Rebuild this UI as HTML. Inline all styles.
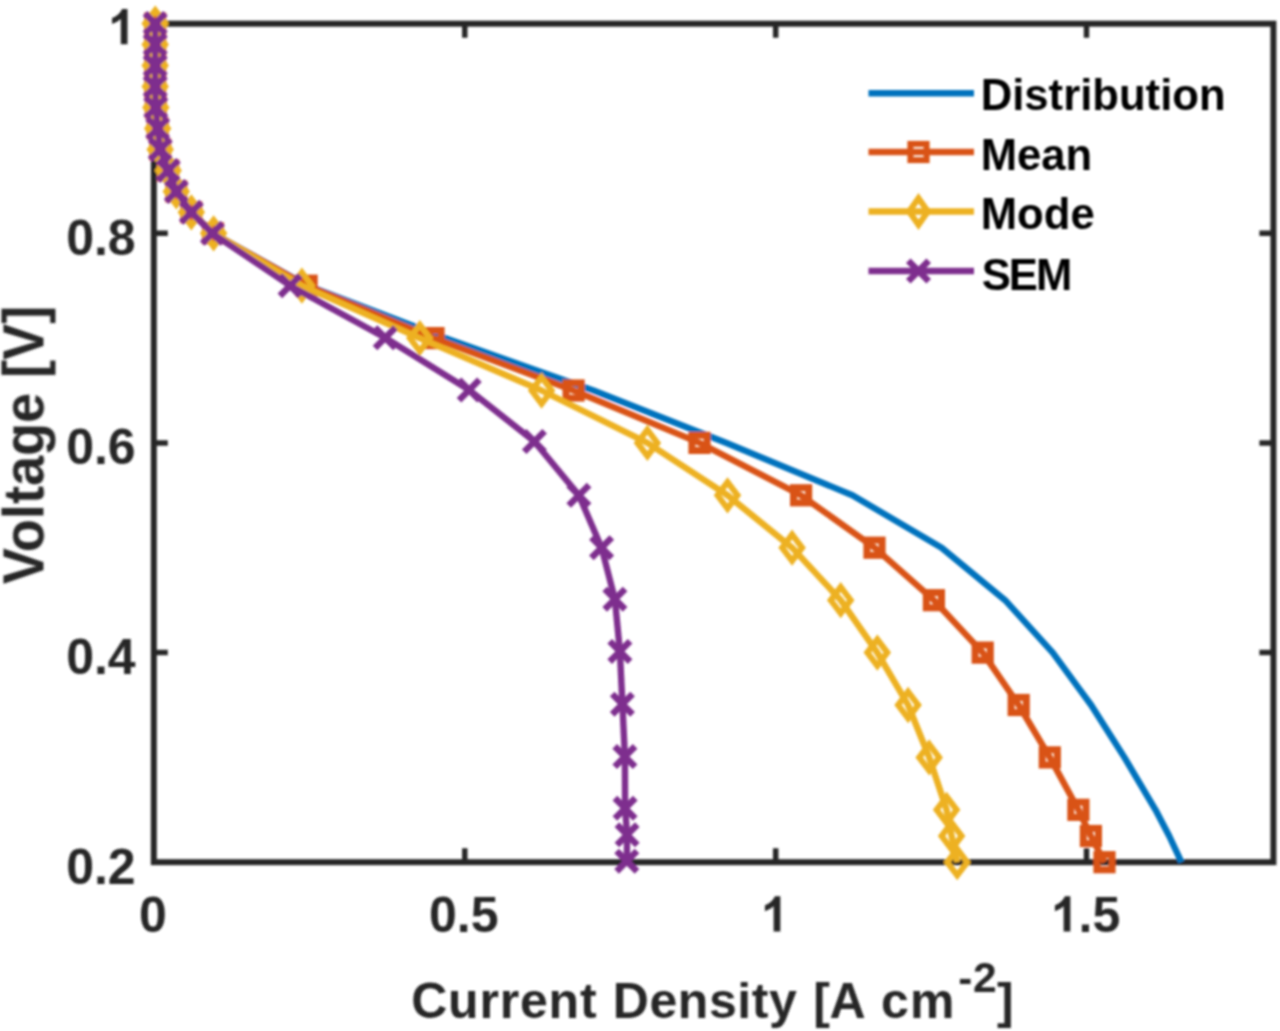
<!DOCTYPE html>
<html><head><meta charset="utf-8"><style>
html,body{margin:0;padding:0;background:#fff;overflow:hidden}
svg{display:block}
text{font-family:"Liberation Sans",sans-serif;font-weight:bold}
</style></head><body>
<svg width="1280" height="1031" viewBox="0 0 1280 1031">
<defs><filter id="bl" x="0" y="0" width="1280" height="1031" filterUnits="userSpaceOnUse"><feGaussianBlur stdDeviation="0.8"/></filter></defs>
<rect width="1280" height="1031" fill="#fff"/>
<g filter="url(#bl)">
<g><rect x="153.8" y="23.7" width="1119.6" height="838.5" fill="none" stroke="#262626" stroke-width="6" stroke-linejoin="miter"/><path d="M464.8,862.2V848.2M464.8,23.7V37.7" stroke="#262626" stroke-width="5.5"/><path d="M775.7,862.2V848.2M775.7,23.7V37.7" stroke="#262626" stroke-width="5.5"/><path d="M1086.5,862.2V848.2M1086.5,23.7V37.7" stroke="#262626" stroke-width="5.5"/><path d="M153.8,652.6H167.8M1273.4,652.6H1259.4" stroke="#262626" stroke-width="5.5"/><path d="M153.8,442.9H167.8M1273.4,442.9H1259.4" stroke="#262626" stroke-width="5.5"/><path d="M153.8,233.3H167.8M1273.4,233.3H1259.4" stroke="#262626" stroke-width="5.5"/></g>
<g><polyline points="155.2,23.6 155.2,44.6 155.2,65.6 155.2,86.5 155.8,107.5 157.7,128.5 160.2,149.4 168.2,170.4 176.3,191.4 191.3,212.3 213.0,233.3 307.5,285.7 444.9,338.1 593.5,390.5 726.5,442.9 852.4,495.3 941.6,547.7 1005.1,600.2 1052.7,652.6 1091.1,705.0 1124.4,757.4 1155.5,809.8 1169.2,836.0 1181.4,862.2" fill="none" stroke="#0072BD" stroke-width="6.4" stroke-linejoin="round"/><polyline points="155.2,23.6 155.2,44.6 155.2,65.6 155.2,86.5 155.8,107.5 157.7,128.5 160.2,149.4 168.2,170.4 176.3,191.4 191.3,212.3 213.0,233.3 306.6,285.7 433.5,338.1 573.6,390.5 699.5,442.9 801.1,495.3 874.5,547.7 933.9,600.2 982.7,652.6 1018.7,705.0 1049.8,757.4 1078.4,809.8 1090.9,836.0 1104.5,862.2" fill="none" stroke="#D95319" stroke-width="6.4" stroke-linejoin="round"/><rect x="147.6" y="16.0" width="15.2" height="15.2" fill="none" stroke="#D95319" stroke-width="7.0"/><rect x="147.6" y="37.0" width="15.2" height="15.2" fill="none" stroke="#D95319" stroke-width="7.0"/><rect x="147.6" y="58.0" width="15.2" height="15.2" fill="none" stroke="#D95319" stroke-width="7.0"/><rect x="147.6" y="78.9" width="15.2" height="15.2" fill="none" stroke="#D95319" stroke-width="7.0"/><rect x="148.2" y="99.9" width="15.2" height="15.2" fill="none" stroke="#D95319" stroke-width="7.0"/><rect x="150.1" y="120.9" width="15.2" height="15.2" fill="none" stroke="#D95319" stroke-width="7.0"/><rect x="152.6" y="141.8" width="15.2" height="15.2" fill="none" stroke="#D95319" stroke-width="7.0"/><rect x="160.6" y="162.8" width="15.2" height="15.2" fill="none" stroke="#D95319" stroke-width="7.0"/><rect x="168.7" y="183.8" width="15.2" height="15.2" fill="none" stroke="#D95319" stroke-width="7.0"/><rect x="183.7" y="204.7" width="15.2" height="15.2" fill="none" stroke="#D95319" stroke-width="7.0"/><rect x="205.4" y="225.7" width="15.2" height="15.2" fill="none" stroke="#D95319" stroke-width="7.0"/><rect x="299.0" y="278.1" width="15.2" height="15.2" fill="none" stroke="#D95319" stroke-width="7.0"/><rect x="425.9" y="330.5" width="15.2" height="15.2" fill="none" stroke="#D95319" stroke-width="7.0"/><rect x="566.0" y="382.9" width="15.2" height="15.2" fill="none" stroke="#D95319" stroke-width="7.0"/><rect x="691.9" y="435.3" width="15.2" height="15.2" fill="none" stroke="#D95319" stroke-width="7.0"/><rect x="793.5" y="487.7" width="15.2" height="15.2" fill="none" stroke="#D95319" stroke-width="7.0"/><rect x="866.9" y="540.1" width="15.2" height="15.2" fill="none" stroke="#D95319" stroke-width="7.0"/><rect x="926.3" y="592.6" width="15.2" height="15.2" fill="none" stroke="#D95319" stroke-width="7.0"/><rect x="975.1" y="645.0" width="15.2" height="15.2" fill="none" stroke="#D95319" stroke-width="7.0"/><rect x="1011.1" y="697.4" width="15.2" height="15.2" fill="none" stroke="#D95319" stroke-width="7.0"/><rect x="1042.2" y="749.8" width="15.2" height="15.2" fill="none" stroke="#D95319" stroke-width="7.0"/><rect x="1070.8" y="802.2" width="15.2" height="15.2" fill="none" stroke="#D95319" stroke-width="7.0"/><rect x="1083.3" y="828.4" width="15.2" height="15.2" fill="none" stroke="#D95319" stroke-width="7.0"/><rect x="1096.9" y="854.6" width="15.2" height="15.2" fill="none" stroke="#D95319" stroke-width="7.0"/><polyline points="155.2,23.6 155.2,44.6 155.2,65.6 155.2,86.5 155.8,107.5 157.7,128.5 160.2,149.4 168.2,170.4 176.3,191.4 191.3,212.3 213.6,233.3 301.9,285.7 419.8,338.1 541.6,390.5 647.4,442.9 727.5,495.3 792.1,547.7 840.7,600.2 877.3,652.6 908.1,705.0 929.2,757.4 946.6,809.8 951.6,836.0 957.2,862.2" fill="none" stroke="#EDB120" stroke-width="6.4" stroke-linejoin="round"/><path d="M155.2,10.4L165.2,23.6L155.2,36.8L145.2,23.6Z" fill="none" stroke="#EDB120" stroke-width="6.0" stroke-miterlimit="10"/><path d="M155.2,31.4L165.2,44.6L155.2,57.8L145.2,44.6Z" fill="none" stroke="#EDB120" stroke-width="6.0" stroke-miterlimit="10"/><path d="M155.2,52.4L165.2,65.6L155.2,78.8L145.2,65.6Z" fill="none" stroke="#EDB120" stroke-width="6.0" stroke-miterlimit="10"/><path d="M155.2,73.3L165.2,86.5L155.2,99.7L145.2,86.5Z" fill="none" stroke="#EDB120" stroke-width="6.0" stroke-miterlimit="10"/><path d="M155.8,94.3L165.8,107.5L155.8,120.7L145.8,107.5Z" fill="none" stroke="#EDB120" stroke-width="6.0" stroke-miterlimit="10"/><path d="M157.7,115.3L167.7,128.5L157.7,141.7L147.7,128.5Z" fill="none" stroke="#EDB120" stroke-width="6.0" stroke-miterlimit="10"/><path d="M160.2,136.2L170.2,149.4L160.2,162.6L150.2,149.4Z" fill="none" stroke="#EDB120" stroke-width="6.0" stroke-miterlimit="10"/><path d="M168.2,157.2L178.2,170.4L168.2,183.6L158.2,170.4Z" fill="none" stroke="#EDB120" stroke-width="6.0" stroke-miterlimit="10"/><path d="M176.3,178.2L186.3,191.4L176.3,204.6L166.3,191.4Z" fill="none" stroke="#EDB120" stroke-width="6.0" stroke-miterlimit="10"/><path d="M191.3,199.1L201.3,212.3L191.3,225.5L181.3,212.3Z" fill="none" stroke="#EDB120" stroke-width="6.0" stroke-miterlimit="10"/><path d="M213.6,220.1L223.6,233.3L213.6,246.5L203.6,233.3Z" fill="none" stroke="#EDB120" stroke-width="6.0" stroke-miterlimit="10"/><path d="M301.9,272.5L311.9,285.7L301.9,298.9L291.9,285.7Z" fill="none" stroke="#EDB120" stroke-width="6.0" stroke-miterlimit="10"/><path d="M419.8,324.9L429.8,338.1L419.8,351.3L409.8,338.1Z" fill="none" stroke="#EDB120" stroke-width="6.0" stroke-miterlimit="10"/><path d="M541.6,377.3L551.6,390.5L541.6,403.7L531.6,390.5Z" fill="none" stroke="#EDB120" stroke-width="6.0" stroke-miterlimit="10"/><path d="M647.4,429.7L657.4,442.9L647.4,456.1L637.4,442.9Z" fill="none" stroke="#EDB120" stroke-width="6.0" stroke-miterlimit="10"/><path d="M727.5,482.1L737.5,495.3L727.5,508.5L717.5,495.3Z" fill="none" stroke="#EDB120" stroke-width="6.0" stroke-miterlimit="10"/><path d="M792.1,534.5L802.1,547.7L792.1,560.9L782.1,547.7Z" fill="none" stroke="#EDB120" stroke-width="6.0" stroke-miterlimit="10"/><path d="M840.7,587.0L850.7,600.2L840.7,613.4L830.7,600.2Z" fill="none" stroke="#EDB120" stroke-width="6.0" stroke-miterlimit="10"/><path d="M877.3,639.4L887.3,652.6L877.3,665.8L867.3,652.6Z" fill="none" stroke="#EDB120" stroke-width="6.0" stroke-miterlimit="10"/><path d="M908.1,691.8L918.1,705.0L908.1,718.2L898.1,705.0Z" fill="none" stroke="#EDB120" stroke-width="6.0" stroke-miterlimit="10"/><path d="M929.2,744.2L939.2,757.4L929.2,770.6L919.2,757.4Z" fill="none" stroke="#EDB120" stroke-width="6.0" stroke-miterlimit="10"/><path d="M946.6,796.6L956.6,809.8L946.6,823.0L936.6,809.8Z" fill="none" stroke="#EDB120" stroke-width="6.0" stroke-miterlimit="10"/><path d="M951.6,822.8L961.6,836.0L951.6,849.2L941.6,836.0Z" fill="none" stroke="#EDB120" stroke-width="6.0" stroke-miterlimit="10"/><path d="M957.2,849.0L967.2,862.2L957.2,875.4L947.2,862.2Z" fill="none" stroke="#EDB120" stroke-width="6.0" stroke-miterlimit="10"/><polyline points="155.2,23.6 155.2,44.6 155.2,65.6 155.2,86.5 155.8,107.5 157.7,128.5 160.2,149.4 168.2,170.4 176.3,191.4 191.3,212.3 212.4,233.3 290.1,285.7 385.2,337.8 469.2,390.0 534.4,441.5 578.9,495.3 601.6,547.7 614.9,599.2 619.9,651.4 622.4,704.2 624.9,756.6 625.1,808.3 627.1,834.8 626.8,861.2" fill="none" stroke="#7E2F8E" stroke-width="6.4" stroke-linejoin="round"/><path d="M145.0,13.4L165.4,33.8M145.0,33.8L165.4,13.4" fill="none" stroke="#7E2F8E" stroke-width="6.5"/><path d="M145.0,34.4L165.4,54.8M145.0,54.8L165.4,34.4" fill="none" stroke="#7E2F8E" stroke-width="6.5"/><path d="M145.0,55.4L165.4,75.8M145.0,75.8L165.4,55.4" fill="none" stroke="#7E2F8E" stroke-width="6.5"/><path d="M145.0,76.3L165.4,96.7M145.0,96.7L165.4,76.3" fill="none" stroke="#7E2F8E" stroke-width="6.5"/><path d="M145.6,97.3L166.0,117.7M145.6,117.7L166.0,97.3" fill="none" stroke="#7E2F8E" stroke-width="6.5"/><path d="M147.5,118.3L167.9,138.7M147.5,138.7L167.9,118.3" fill="none" stroke="#7E2F8E" stroke-width="6.5"/><path d="M150.0,139.2L170.4,159.6M150.0,159.6L170.4,139.2" fill="none" stroke="#7E2F8E" stroke-width="6.5"/><path d="M158.0,160.2L178.4,180.6M158.0,180.6L178.4,160.2" fill="none" stroke="#7E2F8E" stroke-width="6.5"/><path d="M166.1,181.2L186.5,201.6M166.1,201.6L186.5,181.2" fill="none" stroke="#7E2F8E" stroke-width="6.5"/><path d="M181.1,202.1L201.5,222.5M181.1,222.5L201.5,202.1" fill="none" stroke="#7E2F8E" stroke-width="6.5"/><path d="M202.2,223.1L222.6,243.5M202.2,243.5L222.6,223.1" fill="none" stroke="#7E2F8E" stroke-width="6.5"/><path d="M279.9,275.5L300.3,295.9M279.9,295.9L300.3,275.5" fill="none" stroke="#7E2F8E" stroke-width="6.5"/><path d="M375.0,327.6L395.4,348.0M375.0,348.0L395.4,327.6" fill="none" stroke="#7E2F8E" stroke-width="6.5"/><path d="M459.0,379.8L479.4,400.2M459.0,400.2L479.4,379.8" fill="none" stroke="#7E2F8E" stroke-width="6.5"/><path d="M524.2,431.3L544.6,451.7M524.2,451.7L544.6,431.3" fill="none" stroke="#7E2F8E" stroke-width="6.5"/><path d="M568.7,485.1L589.1,505.5M568.7,505.5L589.1,485.1" fill="none" stroke="#7E2F8E" stroke-width="6.5"/><path d="M591.4,537.5L611.8,557.9M591.4,557.9L611.8,537.5" fill="none" stroke="#7E2F8E" stroke-width="6.5"/><path d="M604.7,589.0L625.1,609.4M604.7,609.4L625.1,589.0" fill="none" stroke="#7E2F8E" stroke-width="6.5"/><path d="M609.7,641.2L630.1,661.6M609.7,661.6L630.1,641.2" fill="none" stroke="#7E2F8E" stroke-width="6.5"/><path d="M612.2,694.0L632.6,714.4M612.2,714.4L632.6,694.0" fill="none" stroke="#7E2F8E" stroke-width="6.5"/><path d="M614.7,746.4L635.1,766.8M614.7,766.8L635.1,746.4" fill="none" stroke="#7E2F8E" stroke-width="6.5"/><path d="M614.9,798.1L635.3,818.5M614.9,818.5L635.3,798.1" fill="none" stroke="#7E2F8E" stroke-width="6.5"/><path d="M616.9,824.6L637.3,845.0M616.9,845.0L637.3,824.6" fill="none" stroke="#7E2F8E" stroke-width="6.5"/><path d="M616.6,851.0L637.0,871.4M616.6,871.4L637.0,851.0" fill="none" stroke="#7E2F8E" stroke-width="6.5"/></g>
<g font-family="Liberation Sans" font-weight="bold" fill="#262626"><text x="152.9" y="931.5" text-anchor="middle" font-size="50">0</text><text x="463.8" y="931.5" text-anchor="middle" font-size="50">0.5</text><path transform="translate(760.75,931.50) scale(0.02441,-0.02441)" d="M803 0L528 0L528 1036Q377 895 172 827L172 1076Q280 1111 406 1209Q532 1308 579 1440L803 1440Z"/><path transform="translate(1050.75,931.50) scale(0.02441,-0.02441)" d="M803 0L528 0L528 1036Q377 895 172 827L172 1076Q280 1111 406 1209Q532 1308 579 1440L803 1440Z"/><text x="1078.56" y="931.5" font-size="50">.5</text><text x="135.7" y="883.7" text-anchor="end" font-size="50">0.2</text><text x="135.7" y="674.1" text-anchor="end" font-size="50">0.4</text><text x="135.7" y="464.4" text-anchor="end" font-size="50">0.6</text><text x="135.7" y="254.8" text-anchor="end" font-size="50">0.8</text><path transform="translate(107.89,44.20) scale(0.02441,-0.02441)" d="M803 0L528 0L528 1036Q377 895 172 827L172 1076Q280 1111 406 1209Q532 1308 579 1440L803 1440Z"/><text x="411.2" y="1017.5" font-size="50" letter-spacing="0.8">Current</text><text x="612.8" y="1017.5" font-size="50" letter-spacing="0.55">Density</text><text x="813.3" y="1017.5" font-size="50">[</text><text x="829.6" y="1017.5" font-size="50">A</text><text x="881.1" y="1017.5" font-size="50">c</text><text x="910.1" y="1017.5" font-size="50">m</text><text x="996.9" y="1017.5" font-size="50">]</text><text x="958.3" y="992.5" font-size="42">-</text><text x="972.9" y="991.8" font-size="42.5">2</text><text transform="translate(43.2,584.2) rotate(-90) scale(1,1.055)" font-size="54.1">Voltage [V]</text></g>
<g font-family="Liberation Sans" font-weight="bold"><path d="M868.5,93.2H974" stroke="#0072BD" stroke-width="6.4"/><text transform="translate(980.7,109.8) scale(0.97,1)" font-size="45" letter-spacing="0" fill="#000">Distribution</text><path d="M868.5,152.0H974" stroke="#D95319" stroke-width="6.4"/><rect x="910.4" y="143.9" width="16.2" height="16.2" fill="none" stroke="#D95319" stroke-width="6.0"/><text transform="translate(980.7,169.8) scale(0.97,1)" font-size="45" letter-spacing="0" fill="#000">Mean</text><path d="M868.5,211.5H974" stroke="#EDB120" stroke-width="6.4"/><path d="M918.5,198.2L927.9,211.5L918.5,224.8L909.1,211.5Z" fill="none" stroke="#EDB120" stroke-width="6.0" stroke-miterlimit="10"/><text transform="translate(980.7,229.3) scale(0.97,1)" font-size="45" letter-spacing="0" fill="#000">Mode</text><path d="M868.5,271.0H974" stroke="#7E2F8E" stroke-width="6.4"/><path d="M908.3,260.8L928.7,281.2M908.3,281.2L928.7,260.8" fill="none" stroke="#7E2F8E" stroke-width="6.5"/><text transform="translate(981.7,289.7) scale(0.97,1)" font-size="45" letter-spacing="-2.0" fill="#000">SEM</text></g>
</g>
</svg>
</body></html>
